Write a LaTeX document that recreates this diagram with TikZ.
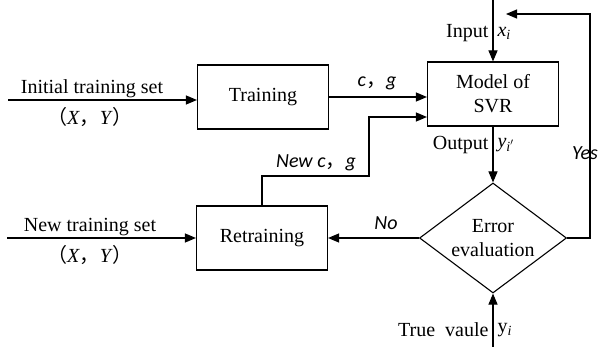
\documentclass[tikz,border=0pt]{standalone}
\usepackage{fontspec}
\setmainfont{Liberation Serif}
\newfontfamily\lblfont{Carlito}
\newfontfamily\cjk{Noto Sans CJK SC}
\usetikzlibrary{arrows.meta,shapes.geometric}

\begin{document}
\begin{tikzpicture}[x=1pt,y=-1pt,line width=1.1pt,>={Triangle[length=11pt,width=9pt]},
        font=\fontsize{20}{24}\selectfont,
        box/.style={draw,rectangle,minimum width=131pt,minimum height=64pt,inner sep=0pt,align=center},
        decide/.style={draw,diamond,aspect=1.34,minimum width=147pt,minimum height=110pt,inner sep=0pt,align=center},
        lbl/.style={font=\fontsize{20}{24}\selectfont\lblfont\itshape,inner sep=0pt},
        txt/.style={inner sep=0pt}]
        \useasboundingbox (0,0) rectangle (601,347);

        \node[box] (train) at (263,97) {Training};
        \node[box] (svr) at (493,94) {Model of\\SVR};
        \node[box] (retrain) at (262,238) {Retraining};
        \node[decide] (eval) at (493,238) {Error\\evaluation};

        \coordinate (init) at (8,100);
        \coordinate (newset) at (7,238);
        \coordinate (inp) at (493,0);
        \coordinate (truev) at (493,347);
        \coordinate (bend) at (369,176);
        \coordinate (corner) at (590,14);
        \coordinate (back) at (506,14);

        \node[txt] (initlbl) at (92,89) {Initial training set};
        \node[txt] (initxy) at (90,117) {{\cjk （}\textit{X}{\cjk ，}\textit{Y}{\cjk ）}};
        \node[txt] (newlbl) at (90,227) {New training set};
        \node[txt] (newxy) at (90,255) {{\cjk （}\textit{X}{\cjk ，}\textit{Y}{\cjk ）}};
        \node[lbl] (cg) at (377,83) {c{\cjk ，}g};
        \node[lbl] (newcg) at (316,163) {New c{\cjk ，}g};
        \node[lbl] (no) at (386,223) {No};
        \node[lbl] (yes) at (585,153) {Yes};
        \node[txt,anchor=east] (inlbl) at (489,33) {Input};
        \node[txt,anchor=west] (inx) at (497,33) {\textit{x\textsubscript{i}}};
        \node[txt,anchor=east] (outlbl) at (489,145) {Output};
        \node[txt,anchor=west] (outy) at (497,145) {\textit{y\textsubscript{i$'$}}};
        \node[txt,anchor=east] (truelbl) at (489,330) {True\ \ vaule};
        \node[txt,anchor=west] (truey) at (497,330) {y\textsubscript{\textit{i}}};

        \draw[->] (init) -- (init -| train.west);
        \draw[->] (newset) -- (retrain);
        \draw[->] (train.east) -- (train.east -| svr.west);
        \draw[->] (retrain.north) |- (bend) |- ([yshift=-23pt]svr.west);
        \draw[->] (inp) -- (svr);
        \draw[->] (svr) -- (eval);
        \draw[->] (truev) -- (eval);
        \draw[->] (eval) -- (retrain);
        \draw[->] (eval.east) -| (corner) -- (back);
    \end{tikzpicture}
\end{document}
